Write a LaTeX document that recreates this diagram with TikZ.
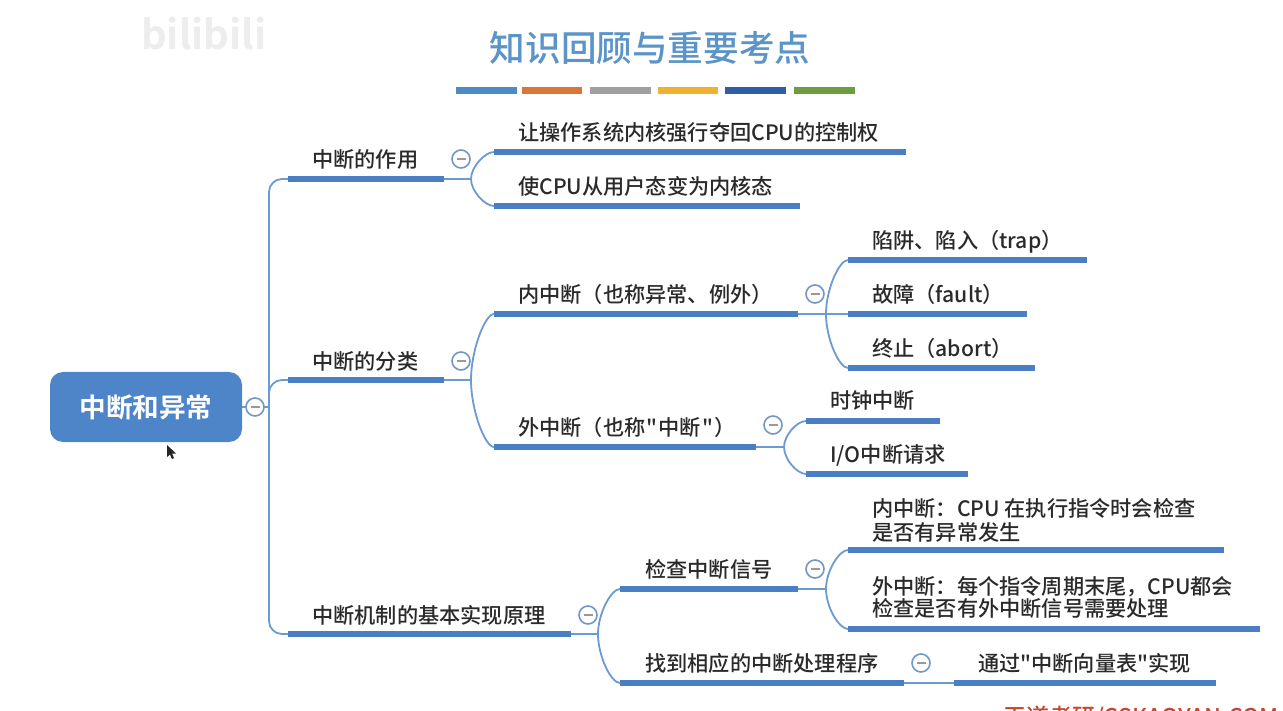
\documentclass[tikz,border=0pt]{standalone}
\usepackage{fontspec}
\newfontfamily\cjkm{Noto Sans CJK SC Medium}
\newfontfamily\cjkb[BoldFont={Noto Sans CJK SC Bold}]{Noto Sans CJK SC}
\usetikzlibrary{calc}
\definecolor{barblue}{HTML}{4A7FC4}
\definecolor{connblue}{HTML}{6C9BD2}
\definecolor{rootblue}{HTML}{4E84C8}
\definecolor{titleblue}{HTML}{5A94C8}
\definecolor{togglec}{HTML}{7297C6}
\definecolor{txt}{HTML}{2A2A2A}
\definecolor{sa}{HTML}{4A8CC4}
\definecolor{sb}{HTML}{DD7537}
\definecolor{sc}{HTML}{A0A0A0}
\definecolor{sd}{HTML}{F0B030}
\definecolor{se}{HTML}{2F5EA8}
\definecolor{sf}{HTML}{6A9E3E}
\definecolor{brand}{HTML}{C8452A}
\tikzset{
  x=1pt,y=-1pt,
  bar/.style={fill=barblue,draw=none,minimum height=5.2pt,inner sep=0pt,anchor=west,outer sep=0pt},
  conn/.style={draw=connblue,line width=1.8pt},
  lbl/.style={anchor=base west,inner sep=0pt,text=txt,font=\cjkm\fontsize{21.2pt}{24pt}\selectfont},
  stripe/.style={minimum height=7pt,inner sep=0pt,draw=none,anchor=west},
  toggle/.style={circle,draw=togglec,line width=1.6pt,fill=white,minimum size=18pt,inner sep=0pt,
    path picture={\draw[color=gray!80,line width=1.6pt] ([xshift=-4.5pt]path picture bounding box.center)--([xshift=4.5pt]path picture bounding box.center);}},
}
\newcommand{\forkto}[2]{\draw[conn] (#1) .. controls ($(#1)!0.45!(#1 |- #2.west)$) and ($(#2.west)+(-9,0)$) .. (#2.west);}
\newcommand{\qt}{\kern1.2pt"\kern1.2pt}
\begin{document}
\begin{tikzpicture}
\useasboundingbox (0,0) rectangle (1283,711);
\clip (0,0) rectangle (1283,711);
\fill[white] (0,0) rectangle (1283,711);
% watermark
\node[anchor=base west,inner sep=0pt,text=black!7,font=\cjkb\bfseries\fontsize{40pt}{44pt}\selectfont] (wm) at (141,50) {bilibili};
% title and colour stripes
\node[inner sep=0pt,text=titleblue,font=\cjkm\fontsize{35.6pt}{40pt}\selectfont] (title) at (650,48) {知识回顾与重要考点};
\node[stripe,fill=sa,minimum width=61pt] (s1) at (456,90.5) {};
\node[stripe,fill=sb,minimum width=60pt] (s2) at (522,90.5) {};
\node[stripe,fill=sc,minimum width=61pt] (s3) at (590,90.5) {};
\node[stripe,fill=sd,minimum width=60pt] (s4) at (658,90.5) {};
\node[stripe,fill=se,minimum width=61pt] (s5) at (725,90.5) {};
\node[stripe,fill=sf,minimum width=61pt] (s6) at (794,90.5) {};
% root
\node[fill=rootblue,rounded corners=13pt,minimum width=192pt,minimum height=70pt,inner sep=0pt,text=white,font=\cjkb\bfseries\fontsize{26.6pt}{30pt}\selectfont] (root) at (146,407) {中断和异常};
% bars
\node[bar,minimum width=156pt] (a1) at (288,179) {};
\node[bar,minimum width=156pt] (a2) at (288,380) {};
\node[bar,minimum width=283pt] (a3) at (288,634) {};
\node[bar,minimum width=412pt] (p1) at (494,152) {};
\node[bar,minimum width=306pt] (p2) at (494,206) {};
\node[bar,minimum width=304pt] (b1) at (494,314) {};
\node[bar,minimum width=262pt] (b2) at (494,447) {};
\node[bar,minimum width=239pt] (d1) at (848,260) {};
\node[bar,minimum width=179pt] (d2) at (848,314) {};
\node[bar,minimum width=187pt] (d3) at (848,368) {};
\node[bar,minimum width=134pt] (e1) at (806,421) {};
\node[bar,minimum width=162pt] (e2) at (806,474) {};
\node[bar,minimum width=178pt] (c1) at (620,589) {};
\node[bar,minimum width=284pt] (c2) at (620,683) {};
\node[bar,minimum width=376pt] (f1) at (848,550) {};
\node[bar,minimum width=412pt] (f2) at (848,629) {};
\node[bar,minimum width=262pt] (g1) at (954,683) {};
% fork points
\coordinate (ka) at (471,179);
\coordinate (kb) at (471,380);
\coordinate (kc) at (598,634);
\coordinate (kd) at (826,314);
\coordinate (ke) at (784,447);
\coordinate (kf) at (826,589);
% root trunk
\coordinate (tr) at (269,407);
\draw[conn] (root.east) -- (tr);
\draw[conn,rounded corners=13pt] (tr) |- (a1.west);
\draw[conn,rounded corners=13pt] (tr) |- (a3.west);
\draw[conn,rounded corners=13pt] (tr) |- (a2.west);
% forks
\draw[conn] (a1.east) -- (ka); \forkto{ka}{p1} \forkto{ka}{p2}
\draw[conn] (a2.east) -- (kb); \forkto{kb}{b1} \forkto{kb}{b2}
\draw[conn] (a3.east) -- (kc); \forkto{kc}{c1} \forkto{kc}{c2}
\draw[conn] (b1.east) -- (kd); \forkto{kd}{d1} \forkto{kd}{d3}
\draw[conn] (kd) -- (d2.west);
\draw[conn] (b2.east) -- (ke); \forkto{ke}{e1} \forkto{ke}{e2}
\draw[conn] (c1.east) -- (kf); \forkto{kf}{f1} \forkto{kf}{f2}
\draw[conn] (c2.east) -- (g1.west);
% toggles
\node[toggle] (t0) at (255,407) {};
\node[toggle] (t1) at (461,159) {};
\node[toggle] (t2) at (461,361) {};
\node[toggle] (t3) at (588,615) {};
\node[toggle] (t4) at (815,294) {};
\node[toggle] (t5) at (773,425) {};
\node[toggle] (t6) at (815,569) {};
\node[toggle] (t7) at (921,663) {};
% labels
\node[lbl] (la1) at (312,168) {中断的作用};
\node[lbl] (la2) at (312,370) {中断的分类};
\node[lbl] (la3) at (312,623) {中断机制的基本实现原理};
\node[lbl] (lp1) at (518,141) {让操作系统内核强行夺回CPU的控制权};
\node[lbl] (lp2) at (518,195) {使CPU从用户态变为内核态};
\node[lbl] (lb1) at (518,303) {内中断（也称异常、例外）};
\node[lbl] (lb2) at (518,435) {外中断（也称\qt 中断\qt ）};
\node[lbl] (ld1) at (872,249) {陷阱、陷入（trap）};
\node[lbl] (ld2) at (872,303) {故障（fault）};
\node[lbl] (ld3) at (872,357) {终止（abort）};
\node[lbl] (le1) at (830,408) {时钟中断};
\node[lbl] (le2) at (830,462) {I/O中断请求};
\node[lbl] (lc1) at (645,577) {检查中断信号};
\node[lbl] (lc2) at (645,671) {找到相应的中断处理程序};
\node[lbl] (lf1a) at (872,516) {内中断：CPU 在执行指令时会检查};
\node[lbl] (lf1b) at (872,540) {是否有异常发生};
\node[lbl] (lf2a) at (872,594) {外中断：每个指令周期末尾，CPU都会};
\node[lbl] (lf2b) at (872,616) {检查是否有外中断信号需要处理};
\node[lbl] (lg1) at (978,671) {通过"中断向量表"实现};
% brand text, cut by the frame
\node[anchor=base west,inner sep=0pt,text=brand,font=\cjkm\fontsize{23pt}{24pt}\selectfont] (brandt) at (1003,725) {王道考研/CSKAOYAN.COM};
% mouse cursor
\fill[black!85] (167,445) -- (167,457) -- (170,454.5) -- (172,459) -- (174,458) -- (172,453.5) -- (176,453.5) -- cycle;
\end{tikzpicture}
\end{document}
